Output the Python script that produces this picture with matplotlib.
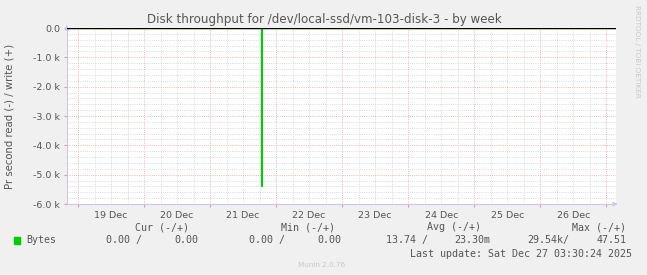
import matplotlib
matplotlib.use("Agg")
import matplotlib.pyplot as plt
import matplotlib.dates as mdates
import pandas as pd

# --- data ---
sample_times = ["2025-12-18 20:00", "2025-12-21 18:30", "2025-12-21 19:00", "2025-12-27 03:30"]
read_bytes = [0, 5400, 0, 0]       # read drawn below zero
write_bytes = [0, 0, 0, 0]

day_labels = ["19 Dec", "20 Dec", "21 Dec", "22 Dec", "23 Dec", "24 Dec", "25 Dec", "26 Dec"]
y_ticks = [0, -1000, -2000, -3000, -4000, -5000, -6000]
y_tick_labels = ["0.0", "-1.0 k", "-2.0 k", "-3.0 k", "-4.0 k", "-5.0 k", "-6.0 k"]

legend_headers = ["Cur (-/+)", "Min (-/+)", "Avg (-/+)", "Max (-/+)"]
legend_reads = ["0.00 /", "0.00 /", "13.74 /", "29.54k/"]
legend_writes = ["0.00", "0.00", "23.30m", "47.51"]

title = "Disk throughput for /dev/local-ssd/vm-103-disk-3 - by week"
ylabel = "Pr second read (-) / write (+)"
last_update = "Last update: Sat Dec 27 03:30:24 2025"

BG = "#f0f0f0"
TXT = "#555555"
GREEN = "#00cc00"
AXIS = "#c8c8f0"

t = pd.to_datetime(sample_times)
neg_read = [-v for v in read_bytes]

fig = plt.figure(figsize=(6.47, 2.75), dpi=100, facecolor=BG)
ax = fig.add_axes([67 / 647, 1 - 204 / 275, 549 / 647, 176 / 275])
ax.set_facecolor("white")

ax.step(t, neg_read, where="post", color=GREEN, lw=0.8, zorder=3)
ax.step(t, write_bytes, where="post", color=GREEN, lw=0.8, zorder=3)
ax.axhline(0, color="black", lw=1.0, zorder=4)

ax.set_xlim(pd.Timestamp("2025-12-18 20:00"), pd.Timestamp("2025-12-27 03:30"))
ax.set_ylim(-6000, 0)

# grid: days major, 6h minor; 1k major, 200 minor
days = pd.date_range("2025-12-19", "2025-12-27", freq="D")
ax.set_xticks(days)
ax.set_xticklabels([])
ax.xaxis.set_minor_locator(mdates.HourLocator(byhour=[6, 12, 18]))
noons = days[:-1] + pd.Timedelta(hours=12)
for x, lab in zip(noons, day_labels):
    ax.text(x, -0.04, lab, transform=ax.get_xaxis_transform(), ha="center", va="top",
            fontsize=6.8, color=TXT)

ax.set_yticks(y_ticks)
ax.set_yticklabels(y_tick_labels, fontsize=6.8, color=TXT)
ax.set_yticks(range(-6000, 1, 200), minor=True)

ax.grid(which="minor", color="#cfcfcf", ls=(0, (1, 1.6)), lw=0.6)
ax.grid(which="major", color="#e8a0a0", ls=(0, (1, 1.6)), lw=0.6)
ax.tick_params(which="major", length=2, color="#e89898", pad=3)
ax.tick_params(which="minor", length=0)

for s in ["top", "right"]:
    ax.spines[s].set_visible(False)
for s in ["left", "bottom"]:
    ax.spines[s].set_color(AXIS)
    ax.spines[s].set_linewidth(0.8)
ax.annotate("", xy=(1.008, 0), xytext=(0.99, 0), xycoords="axes fraction",
            arrowprops=dict(arrowstyle="-|>", color=AXIS, lw=0.8, mutation_scale=6))
ax.annotate("", xy=(0, 1.03), xytext=(0, 0.99), xycoords="axes fraction",
            arrowprops=dict(arrowstyle="-|>", color=AXIS, lw=0.8, mutation_scale=6))

fig.text(324 / 647, 1 - 19 / 275, title, ha="center", va="center", fontsize=8.6, color=TXT)
fig.text(10 / 647, 1 - 116 / 275, ylabel, rotation=90, ha="center", va="center",
         fontsize=7.3, color=TXT)
fig.text(637 / 647, 1 - 5 / 275, "RRDTOOL / TOBI OETIKER", rotation=270, ha="center",
         va="top", fontsize=5.2, color="#c8c8c8")

# legend block
mono = "DejaVu Sans Mono"
head_x = [162, 308, 454, 599]
read_x = [142, 285, 428, 569]
write_x = [198, 341, 490, 627]
fig.patches.append(plt.Rectangle((14 / 647, 1 - 244 / 275), 6 / 647, 7 / 275,
                                 transform=fig.transFigure, color=GREEN))
fig.text(26 / 647, 1 - 240 / 275, "Bytes", ha="left", va="center", fontsize=7.2,
         family=mono, color=TXT)
for i in range(4):
    fig.text(head_x[i] / 647, 1 - 227 / 275, legend_headers[i], ha="center", va="center",
             fontsize=7.2, family=mono, color=TXT)
    fig.text(read_x[i] / 647, 1 - 240 / 275, legend_reads[i], ha="right", va="center",
             fontsize=7.2, family=mono, color=TXT)
    fig.text(write_x[i] / 647, 1 - 240 / 275, legend_writes[i], ha="right", va="center",
             fontsize=7.2, family=mono, color=TXT)
fig.text(632 / 647, 1 - 254 / 275, last_update, ha="right", va="center", fontsize=7.2,
         family=mono, color=TXT)
fig.text(322 / 647, 1 - 265 / 275, "Munin 2.0.76", ha="center", va="center",
         fontsize=5.2, color="#c8c8c8")

fig.savefig("out.png", dpi=100, facecolor=BG)
